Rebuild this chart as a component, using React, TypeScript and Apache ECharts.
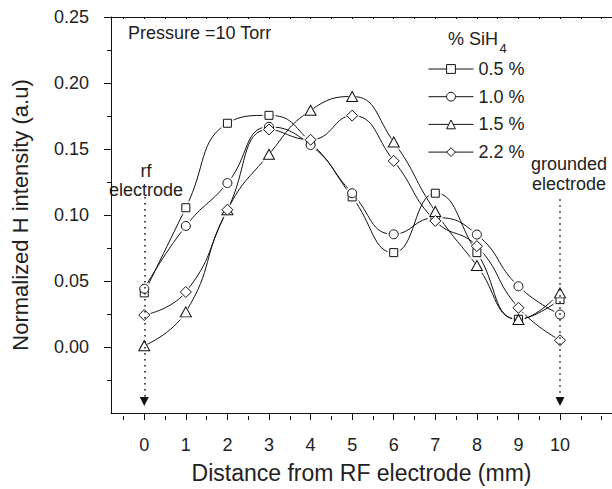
import { useEffect, useRef } from 'react';
import * as echarts from 'echarts';

const xPositions = [0, 1, 2, 3, 4, 5, 6, 7, 8, 9, 10];
const seriesNames = ['0.5 %', '1.0 %', '1.5 %', '2.2 %'];
const sih05 = [0.041, 0.1055, 0.1695, 0.1755, 0.155, 0.1137, 0.0715, 0.1165, 0.0715, 0.021, 0.0359];
const sih10 = [0.0441, 0.0917, 0.1242, 0.1668, 0.153, 0.1165, 0.0854, 0.098, 0.0852, 0.046, 0.0246];
const sih15 = [0.001, 0.0266, 0.104, 0.146, 0.1793, 0.1898, 0.1553, 0.1027, 0.0617, 0.0209, 0.041];
const sih22 = [0.0242, 0.0417, 0.104, 0.1648, 0.157, 0.1753, 0.141, 0.0955, 0.0764, 0.0297, 0.0051];
const allValues = [sih05, sih10, sih15, sih22];
const symbols = ['rect', 'circle', 'triangle', 'diamond'];
const symbolSizes: any[] = [8, 9, [11, 10], 11];
const haloSizes: any[] = [13, 14, [16, 15], 16];

const xMajorTicks = [0, 1, 2, 3, 4, 5, 6, 7, 8, 9, 10];
const xMinorTicks = [-0.5, 0.5, 1.5, 2.5, 3.5, 4.5, 5.5, 6.5, 7.5, 8.5, 9.5, 10.5, 11];
const xTopTicks = [-0.5, 0, 0.5, 1, 1.5, 2, 2.5, 3, 3.5, 4, 4.5, 5, 5.5, 6, 6.5, 7, 7.5, 8, 8.5, 9, 9.5, 10, 10.5, 11];
const yMajorTicks = [0, 0.05, 0.1, 0.15, 0.2, 0.25];
const electrodeArrows = [
  { x: 0, from: 0.1137, to: -0.0413 },
  { x: 10, from: 0.112, to: -0.0413 },
];

const FONT = 'Liberation Sans, Arial, Helvetica, sans-serif';
const INK = '#111';
const TEXT = '#222';

export default function App() {
  const ref = useRef<HTMLDivElement>(null);
  useEffect(() => {
    const chart = echarts.init(ref.current!, null, { renderer: 'svg' });
    const gridBox = { left: 111, top: 17, right: -15, bottom: 73 };
    const xRange = { min: -0.8, max: 11.25 };
    const series: any[] = [];
    allValues.forEach((vals, i) => {
      const data = xPositions.map((x, j) => [x, vals[j]]);
      series.push({
        type: 'line',
        name: 'curve' + i,
        data,
        smooth: 0.5,
        symbol: 'none',
        silent: true,
        z: 2,
        lineStyle: { color: INK, width: 1 },
        markLine: i === 0 ? {
          silent: true,
          symbol: ['none', 'triangle'],
          symbolSize: 9,
          label: { show: false },
          lineStyle: { color: INK, width: 1.5, type: [1.5, 4.5] },
          data: electrodeArrows.map((a) => [
            { coord: [a.x, a.from] },
            { coord: [a.x, a.to] },
          ]),
        } : undefined,
      });
      series.push({
        type: 'scatter',
        name: 'halo' + i,
        data,
        symbol: symbols[i],
        symbolSize: haloSizes[i],
        silent: true,
        z: 3,
        itemStyle: { color: '#fff', borderWidth: 0 },
      });
      series.push({
        type: 'line',
        name: seriesNames[i],
        data,
        symbol: symbols[i],
        symbolSize: symbolSizes[i],
        showSymbol: true,
        silent: true,
        z: 4,
        lineStyle: { opacity: 0 },
        itemStyle: { color: '#fff', borderColor: INK, borderWidth: 1 },
      });
    });

    const option: any = {
      animation: false,
      backgroundColor: '#fff',
      grid: [
        { ...gridBox, containLabel: false },
        { ...gridBox, containLabel: false },
      ],
      legend: {
        data: seriesNames,
        orient: 'vertical',
        left: 428,
        top: 60,
        padding: 0,
        itemWidth: 45,
        itemHeight: 11,
        itemGap: 9.7,
        selectedMode: false,
        textStyle: { fontSize: 18, color: TEXT, fontFamily: FONT },
        lineStyle: { color: INK, width: 1, opacity: 1 },
        itemStyle: { color: '#fff', borderColor: INK, borderWidth: 1 },
      },
      xAxis: [
        {
          gridIndex: 0,
          type: 'value',
          position: 'bottom',
          ...xRange,
          axisLine: { show: true, onZero: false, lineStyle: { color: INK, width: 1 } },
          axisTick: { show: true, inside: false, length: 7, customValues: xMajorTicks, lineStyle: { color: INK } },
          axisLabel: { show: true, customValues: xMajorTicks, margin: 23, fontSize: 18, color: TEXT, fontFamily: FONT, formatter: (v: number) => String(Math.round(v)) },
          splitLine: { show: false },
          name: 'Distance from RF electrode (mm)',
          nameLocation: 'middle',
          nameGap: 48,
          nameTextStyle: { fontSize: 23, color: TEXT, fontFamily: FONT },
        },
        {
          gridIndex: 0,
          type: 'value',
          position: 'top',
          ...xRange,
          axisLine: { show: true, onZero: false, lineStyle: { color: INK, width: 1 } },
          axisTick: { show: true, inside: true, length: 2, customValues: xTopTicks, lineStyle: { color: INK } },
          axisLabel: { show: false },
          splitLine: { show: false },
        },
        {
          gridIndex: 1,
          type: 'value',
          position: 'bottom',
          ...xRange,
          axisLine: { show: false, onZero: false },
          axisTick: { show: true, inside: false, length: 4, customValues: xMinorTicks, lineStyle: { color: INK } },
          axisLabel: { show: false },
          splitLine: { show: false },
        },
      ],
      yAxis: [
        {
          gridIndex: 0,
          type: 'value',
          min: -0.05,
          max: 0.25,
          interval: 0.05,
          axisLine: { show: true, onZero: false, lineStyle: { color: INK, width: 1 } },
          axisTick: { show: true, inside: false, length: 7, customValues: yMajorTicks, lineStyle: { color: INK } },
          minorTick: { show: true, splitNumber: 2, length: 4, lineStyle: { color: INK } },
          axisLabel: {
            show: true,
            customValues: yMajorTicks,
            margin: 22,
            fontSize: 18,
            color: TEXT,
            fontFamily: FONT,
            formatter: (v: number) => (v < -0.001 ? '' : v.toFixed(2)),
          },
          splitLine: { show: false },
          minorSplitLine: { show: false },
          name: 'Normalized H intensity (a.u)',
          nameLocation: 'middle',
          nameGap: 80,
          nameTextStyle: { fontSize: 22, color: TEXT, fontFamily: FONT },
        },
        {
          gridIndex: 1,
          type: 'value',
          min: -0.05,
          max: 0.25,
          show: false,
        },
      ],
      graphic: [
        { type: 'text', x: 128, y: 32.5, silent: true, style: { text: 'Pressure =10 Torr', fontSize: 18, fontFamily: FONT, fill: TEXT, align: 'left', verticalAlign: 'middle' } },
        { type: 'text', x: 448, y: 38.5, silent: true, style: { text: '% SiH', fontSize: 18, fontFamily: FONT, fill: TEXT, align: 'left', verticalAlign: 'middle' } },
        { type: 'text', x: 499.5, y: 48, silent: true, style: { text: '4', fontSize: 13, fontFamily: FONT, fill: TEXT, align: 'left', verticalAlign: 'middle' } },
        { type: 'text', x: 146, y: 171, silent: true, style: { text: 'rf', fontSize: 18, fontFamily: FONT, fill: TEXT, align: 'center', verticalAlign: 'middle' } },
        { type: 'text', x: 146, y: 190, silent: true, style: { text: 'electrode', fontSize: 18, fontFamily: FONT, fill: TEXT, align: 'center', verticalAlign: 'middle' } },
        { type: 'text', x: 569, y: 164, silent: true, style: { text: 'grounded', fontSize: 18, fontFamily: FONT, fill: TEXT, align: 'center', verticalAlign: 'middle' } },
        { type: 'text', x: 569, y: 184, silent: true, style: { text: 'electrode', fontSize: 18, fontFamily: FONT, fill: TEXT, align: 'center', verticalAlign: 'middle' } },
      ],
      series,
    };
    chart.setOption(option);
    return () => chart.dispose();
  }, []);
  return (
    <div
      ref={ref}
      style={{ position: 'fixed', left: 0, top: 0, width: 612, height: 489, background: '#fff' }}
    />
  );
}
